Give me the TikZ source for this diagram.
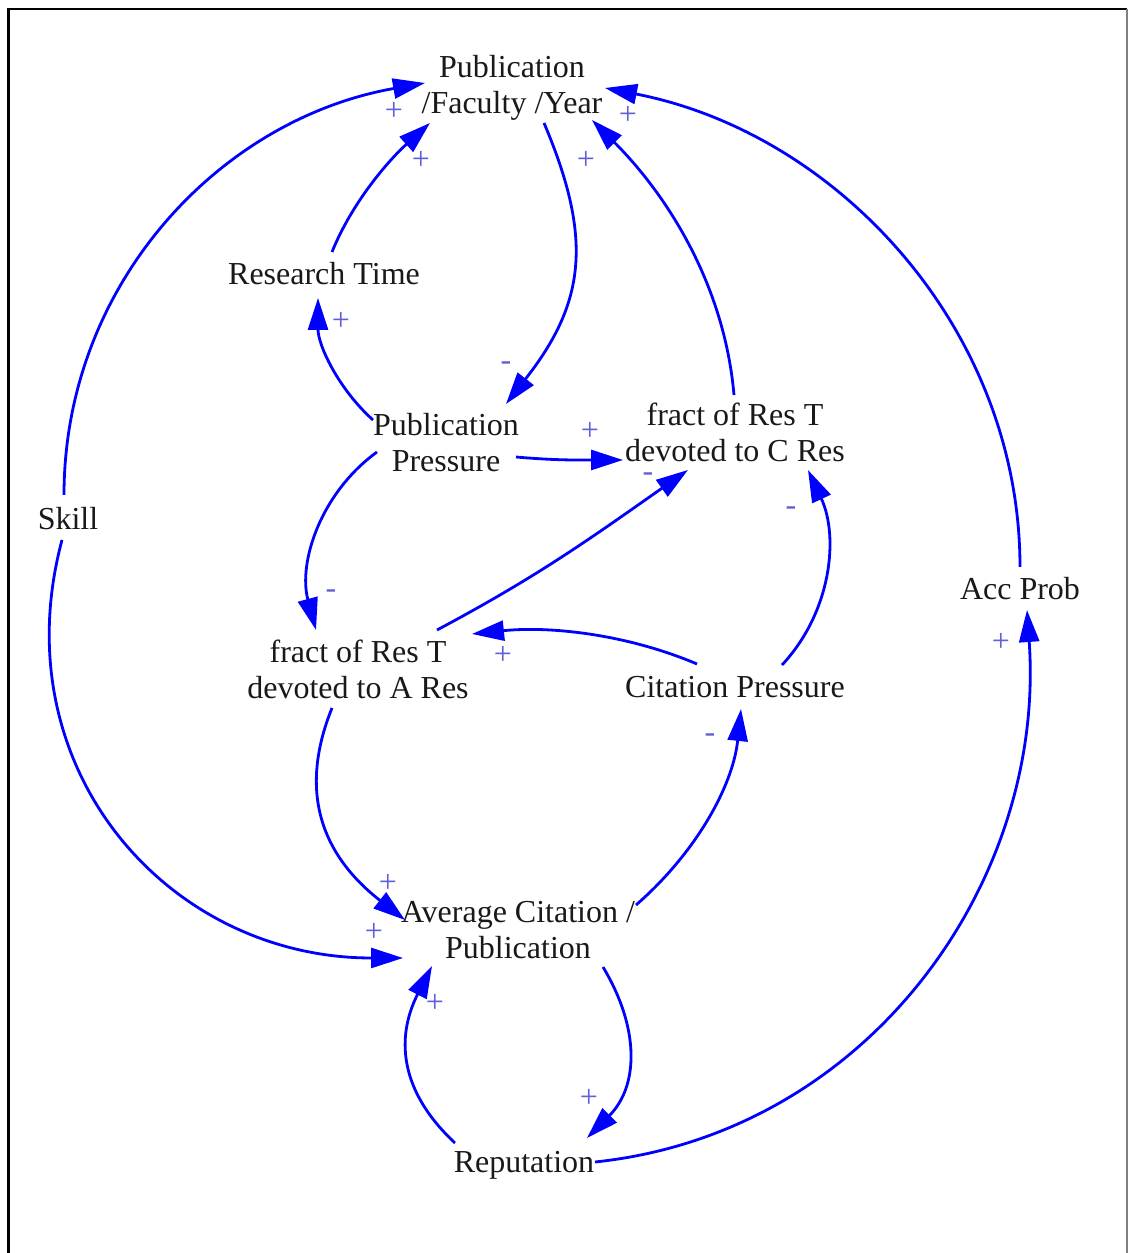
\documentclass[tikz,border=0pt]{standalone}
\usepackage{fontspec}
\setmainfont{Liberation Serif}
\usetikzlibrary{arrows.meta}
\definecolor{linkblue}{RGB}{0,0,255}
\definecolor{signblue}{RGB}{95,95,215}
\definecolor{ink}{RGB}{25,25,25}

\begin{document}
\begin{tikzpicture}[x=0.5pt,y=0.5pt,
  var/.style={align=center, inner sep=0pt, text=ink, font=\fontsize{16}{18}\selectfont},
  link/.style={draw=linkblue, line width=1.4pt, -{Triangle[length=16pt,width=10pt]}},
  sign/.style={text=signblue, inner sep=0pt, font=\fontsize{16}{16}\selectfont}]

% page and frame
\useasboundingbox (0,0) rectangle (1128,1253);
\fill[white] (0,0) rectangle (1128,1253);
\draw[line width=1.3pt] (8.5,0) -- (8.5,1244) -- (1127,1244);
\draw[gray, line width=0.7pt] (1127,1244) -- (1127,0);

% variables
\node[var] (pfy)   at (512,1165) {Publication\\/Faculty /Year};
\node[var] (rt)    at (324,979)  {Research Time};
\node[var] (pp)    at (446,810)  {Publication\\Pressure};
\node[var] (fc)    at (735,821)  {fract of Res T\\devoted to C Res};
\node[var] (skill) at (68,734)   {Skill};
\node[var] (acc)   at (1020,664) {Acc Prob};
\node[var] (fa)    at (358,584)  {fract of Res T\\devoted to A Res};
\node[var] (cp)    at (735,566)  {Citation Pressure};
\node[var] (acp)   at (518,323)  {Average Citation /\\Publication};
\node[var] (rep)   at (524,88)   {Reputation};

% causal links
\draw[link] ([shift={(-4,24)}]skill.center) to[out=90,in=190,looseness=0.98] ([shift={(-87,5)}]pfy.center);
\draw[link] ([shift={(-6,-21)}]skill.center) to[out=255,in=180,looseness=1.12] ([shift={(-115,-28)}]acp.center);
\draw[link] ([shift={(8,22)}]rt.center) to[out=68,in=222,looseness=0.86] ([shift={(-82,-35)}]pfy.center);
\draw[link] ([shift={(32,-35)}]pfy.center) to[out=293,in=52,looseness=1.15] ([shift={(60,39)}]pp.center);
\draw[link] ([shift={(-1,37)}]fc.center) to[out=95,in=315,looseness=0.9] ([shift={(80,-32)}]pfy.center);
\draw[link] ([shift={(0,22)}]acc.center) to[out=90,in=349,looseness=0.96] ([shift={(93,0)}]pfy.center);
\draw[link] ([shift={(-73,23)}]pp.center) to[out=138,in=270,looseness=0.9] ([shift={(-6,-24)}]rt.center);
\draw[link] ([shift={(70,-14)}]pp.center) to[out=-5,in=180] ([shift={(-112,-28)}]fc.center);
\draw[link] ([shift={(-69,-9)}]pp.center) to[out=216,in=105,looseness=0.95] ([shift={(-42,39)}]fa.center);
\draw[link] ([shift={(79,39)}]fa.center) to[out=28,in=215] ([shift={(-47,-38)}]fc.center);
\draw[link] ([shift={(47,22)}]cp.center) to[out=47,in=295,looseness=0.95] ([shift={(73,-38)}]fc.center);
\draw[link] ([shift={(-38,23)}]cp.center) to[out=157,in=6,looseness=0.87] ([shift={(114,35)}]fa.center);
\draw[link] ([shift={(-26,-39)}]fa.center) to[out=248,in=142,looseness=1.12] ([shift={(-113,10)}]acp.center);
\draw[link] ([shift={(118,25)}]acp.center) to[out=41,in=264,looseness=0.9] ([shift={(6,-22)}]cp.center);
\draw[link] ([shift={(85,-37)}]acp.center) to[out=301,in=45,looseness=1.08] ([shift={(63,27)}]rep.center);
\draw[link] ([shift={(-69,22)}]rep.center) to[out=137,in=243,looseness=1.12] ([shift={(-86,-36)}]acp.center);
\draw[link] ([shift={(71,3)}]rep.center) to[out=6,in=274] ([shift={(7,-21)}]acc.center);

% link polarities
\node[sign] (s1)  at (394,1142) {+};
\node[sign] (s2)  at (421,1093) {+};
\node[sign] (s3)  at (628,1138) {+};
\node[sign] (s4)  at (586,1093) {+};
\node[sign] (s5)  at (506,887)  {-};
\node[sign] (s6)  at (341,932)  {+};
\node[sign] (s7)  at (590,822)  {+};
\node[sign] (s8)  at (648,776)  {-};
\node[sign] (s9)  at (791,742)  {-};
\node[sign] (s10) at (331,659)  {-};
\node[sign] (s11) at (503,598)  {+};
\node[sign] (s12) at (1001,611) {+};
\node[sign] (s13) at (710,515)  {-};
\node[sign] (s14) at (388,370)  {+};
\node[sign] (s15) at (374,321)  {+};
\node[sign] (s16) at (435,250)  {+};
\node[sign] (s17) at (589,155)  {+};
\end{tikzpicture}
\end{document}
